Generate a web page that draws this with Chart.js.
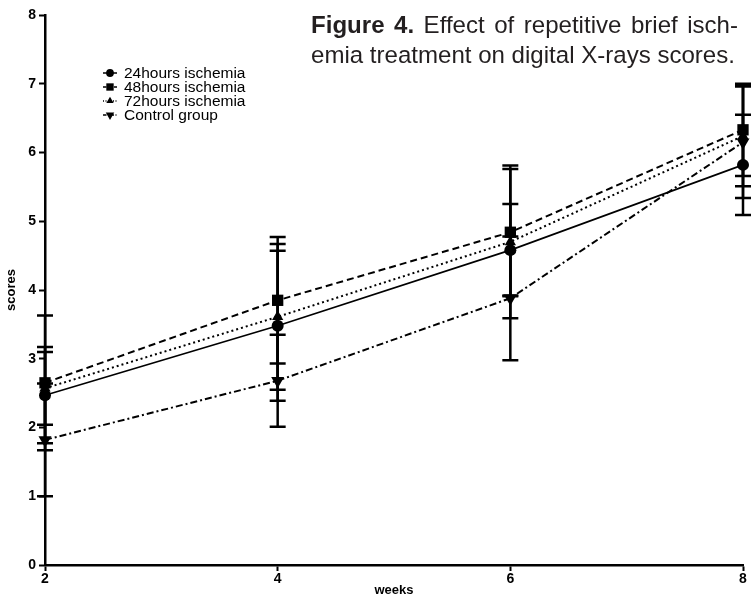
<!DOCTYPE html>
<html>
<head>
<meta charset="utf-8">
<script src="https://cdn.jsdelivr.net/npm/chart.js@4.4.0/dist/chart.umd.min.js"></script>
<style>
    html, body { margin: 0; padding: 0; background: #fff; }
    #wrap { position: relative; width: 751px; height: 598px; overflow: hidden; }
    #caption {
        position: absolute; left: 311px; top: 10px; width: 427px;
        font-family: "Liberation Sans", Arial, sans-serif; font-size: 20px; line-height: 30px;
        color: #231f20;
    }
    #caption span { display: block; white-space: nowrap; }
    #caption .l1 { text-align: justify; text-align-last: justify; }
    #caption .l2 { display: inline-block; }
</style>
</head>
<body>
<div id="wrap">
    <canvas id="chart" width="751" height="598"></canvas>
    <div id="caption">
        <span class="l1"><b>Figure 4.</b> Effect of repetitive brief isch-</span>
        <span class="l2">emia treatment on digital X-rays scores.</span>
    </div>
</div>
<script>
// --- data ---
const weeks = [2, 4, 6, 8];
const seriesNames = ['24hours ischemia', '48hours ischemia', '72hours ischemia', 'Control group'];
const h24 = [2.47, 3.48, 4.58, 5.82];
const h24Sd = [0.70, 1.09, 0.67, 0.73];
const h48 = [2.65, 3.85, 4.84, 6.33];
const h48Sd = [0.98, 0.92, 0.92, 0.67];
const h72 = [2.57, 3.61, 4.70, 6.24];
const h72Sd = [0.53, 1.06, 1.11, 0.73];
const ctrl = [1.82, 2.68, 3.88, 6.15];
const ctrlSd = [0.82, 0.67, 0.90, 0.81];

const FONT = '"Liberation Sans", Arial, sans-serif';

// fit the caption's second line to the column width (~424px)
(function fitCaption() {
    const cap = document.getElementById('caption');
    const l2 = cap.querySelector('.l2');
    const w = l2.getBoundingClientRect().width;
    if (w > 0) cap.style.fontSize = (20 * 424 / w).toFixed(2) + 'px';
})();

function pts(vals) {
    return weeks.map((w, i) => ({ x: w, y: vals[i] }));
}

// style for each series: solid, dashed, dotted, dash-dot
const looks = [
    { dash: [], width: 1.6, style: 'circle', radius: 6, rotation: 0 },
    { dash: [7, 4], width: 2, style: 'rect', radius: 8, rotation: 0 },
    { dash: [2, 3], width: 2, style: 'triangle', radius: 6.5, rotation: 0 },
    { dash: [7, 3, 2, 3], width: 2, style: 'triangle', radius: 7.5, rotation: 180 }
];
const means = [h24, h48, h72, ctrl];
const sds = [h24Sd, h48Sd, h72Sd, ctrlSd];

const datasets = means.map((vals, i) => ({
    label: seriesNames[i],
    data: pts(vals),
    borderColor: '#000',
    backgroundColor: '#000',
    borderWidth: looks[i].width,
    borderDash: looks[i].dash,
    pointStyle: looks[i].style,
    pointRadius: looks[i].radius,
    pointRotation: looks[i].rotation,
    pointBorderWidth: 0,
    tension: 0,
    clip: false
}));

// error bars drawn through the scales
const errorBars = {
    id: 'errorBars',
    beforeDatasetsDraw(chart) {
        const { ctx, scales: { x, y } } = chart;
        ctx.save();
        ctx.strokeStyle = '#000';
        ctx.lineWidth = 2.5;
        ctx.setLineDash([]);
        means.forEach((vals, i) => {
            vals.forEach((m, j) => {
                const px = x.getPixelForValue(weeks[j]);
                const top = y.getPixelForValue(m + sds[i][j]);
                const bot = y.getPixelForValue(m - sds[i][j]);
                ctx.beginPath();
                ctx.moveTo(px, top); ctx.lineTo(px, bot);
                ctx.moveTo(px - 8, top); ctx.lineTo(px + 8, top);
                ctx.moveTo(px - 8, bot); ctx.lineTo(px + 8, bot);
                ctx.stroke();
            });
        });
        ctx.restore();
    }
};

// small legend in the upper left, like the original
const legendBox = {
    id: 'legendBox',
    afterDraw(chart) {
        const ctx = chart.ctx;
        ctx.save();
        ctx.font = '15.5px ' + FONT;
        ctx.textBaseline = 'middle';
        seriesNames.forEach((name, i) => {
            const yy = 73 + i * 14;
            ctx.strokeStyle = '#000';
            ctx.fillStyle = '#000';
            ctx.lineWidth = 1.5;
            ctx.setLineDash(looks[i].dash.map(d => d * 0.5));
            ctx.beginPath();
            ctx.moveTo(103, yy); ctx.lineTo(117, yy);
            ctx.stroke();
            ctx.setLineDash([]);
            Chart.helpers.drawPoint(ctx, {
                pointStyle: looks[i].style,
                rotation: looks[i].rotation,
                radius: looks[i].radius * 0.65,
                borderWidth: 0
            }, 110, yy);
            ctx.fillStyle = '#000';
            ctx.fillText(name, 124, yy + 1);
        });
        ctx.restore();
    }
};

const axisFont = { family: FONT, size: 14, weight: 'bold' };

new Chart(document.getElementById('chart'), {
    type: 'line',
    data: { datasets },
    options: {
        responsive: false,
        animation: false,
        devicePixelRatio: 1,
        layout: { padding: { top: 15, right: 3, left: 0, bottom: 0 } },
        plugins: { legend: { display: false }, tooltip: { enabled: false } },
        scales: {
            x: {
                type: 'linear', min: 2, max: 8,
                ticks: { stepSize: 2, color: '#000', font: axisFont, padding: 0 },
                grid: { drawOnChartArea: false, color: '#000', tickLength: 6, tickWidth: 2 },
                border: { color: '#000', width: 2.5 },
                title: { display: true, text: 'weeks', color: '#000', font: { family: FONT, size: 13, weight: 'bold' }, padding: { top: 0, bottom: 0 } },
                afterFit(s) { s.height = 33; }
            },
            y: {
                min: 0, max: 8,
                ticks: { stepSize: 1, color: '#000', font: axisFont, padding: 3 },
                grid: { drawOnChartArea: false, color: '#000', tickLength: 6, tickWidth: 2 },
                border: { color: '#000', width: 2.5 },
                title: { display: true, text: 'scores', color: '#000', font: { family: FONT, size: 13, weight: 'bold' }, padding: { top: 4, bottom: 0 } },
                afterFit(s) { s.width = 45; }
            }
        }
    },
    plugins: [errorBars, legendBox]
});
</script>
</body>
</html>
